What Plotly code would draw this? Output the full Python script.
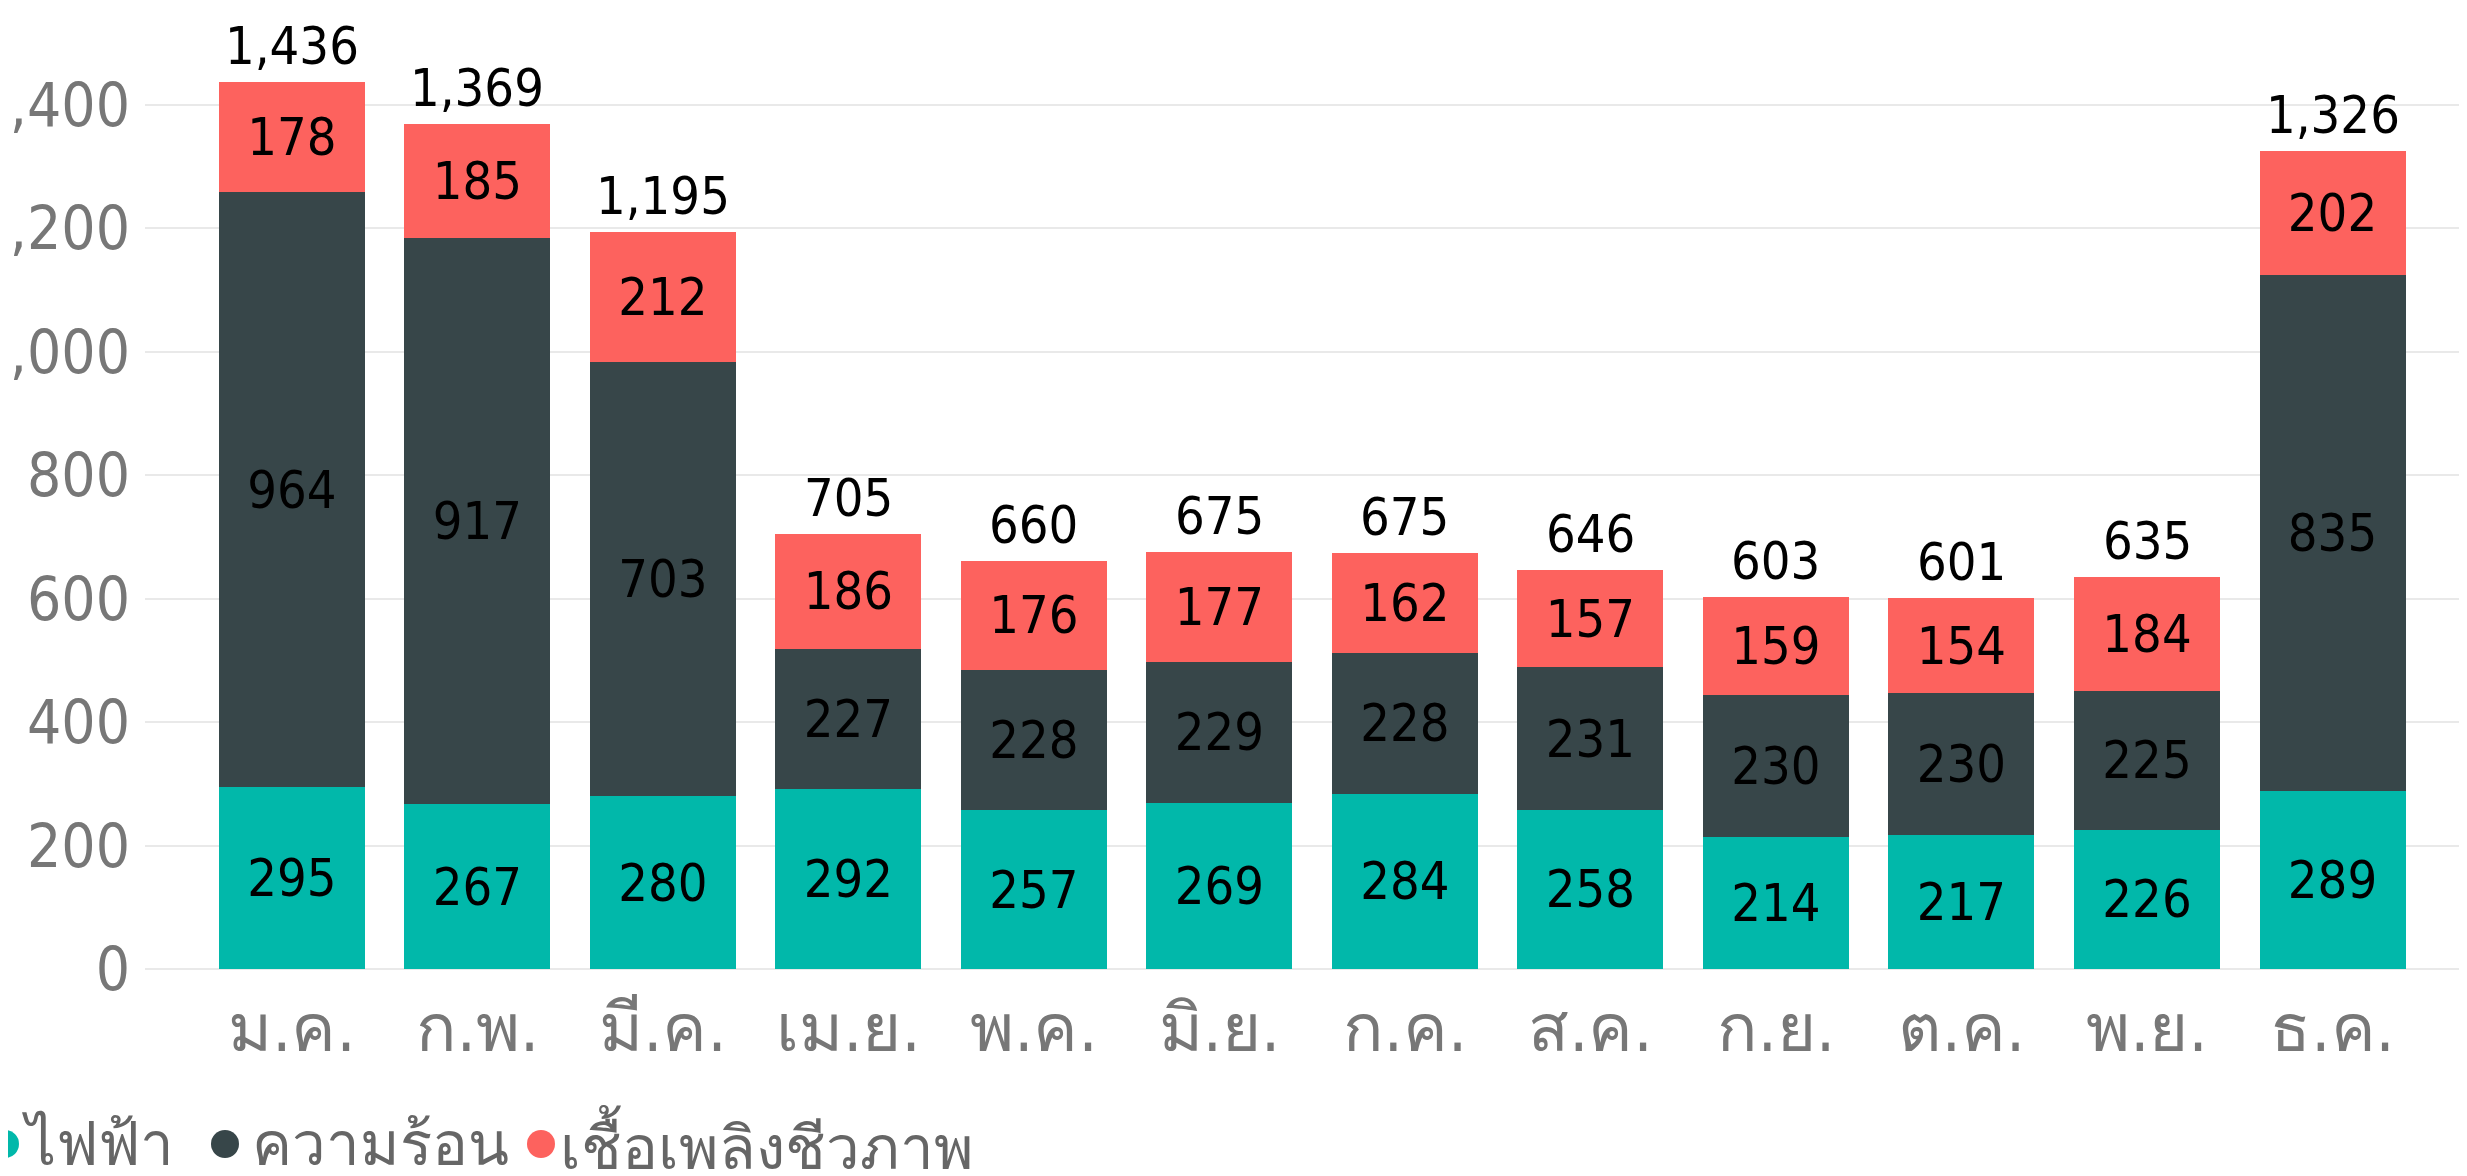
import plotly.graph_objects as go

months = ["ม.ค.", "ก.พ.", "มี.ค.", "เม.ย.", "พ.ค.", "มิ.ย.", "ก.ค.", "ส.ค.", "ก.ย.", "ต.ค.", "พ.ย.", "ธ.ค."]
electricity = [295, 267, 280, 292, 257, 269, 284, 258, 214, 217, 226, 289]
heat = [964, 917, 703, 227, 228, 229, 228, 231, 230, 230, 225, 835]
biofuel = [178, 185, 212, 186, 176, 177, 162, 157, 159, 154, 184, 202]
totals = [1436, 1369, 1195, 705, 660, 675, 675, 646, 603, 601, 635, 1326]
series_names = ["ไฟฟ้า", "ความร้อน", "เชื้อเพลิงชีวภาพ"]
colors = ["#01B8AA", "#374649", "#FD625E"]
y_ticks = [0, 200, 400, 600, 800, 1000, 1200, 1400]

FONT = "'DejaVu Sans Condensed', 'Liberation Sans Narrow', Roboto, sans-serif"

# the page adds an 8px body margin, so the figure is sized to fit inside the window
W, H = 2459, 1168
ML, MB = 137, 207
PW, PH = W - ML, H - MB


def screen_to_paper_x(p):
    return (p - 8 - ML) / PW


def screen_to_paper_y(p):
    return (PH - (p - 8)) / PH


fig = go.Figure()
for name, vals, col in zip(series_names, [electricity, heat, biofuel], colors):
    fig.add_trace(go.Bar(
        x=months, y=vals, name=name, marker=dict(color=col, line=dict(width=0)),
        text=[f"{v:,}" for v in vals], textposition="inside", insidetextanchor="middle",
        textangle=0, constraintext="none",
        textfont=dict(family=FONT, size=52, color="#000000"),
        showlegend=False,
    ))

stack_tops = [a + b + c for a, b, c in zip(electricity, heat, biofuel)]
for m, top, t in zip(months, stack_tops, totals):
    fig.add_annotation(x=m, y=top, text=f"{t:,}", showarrow=False, yanchor="bottom",
                       yshift=4, font=dict(family=FONT, size=52, color="#000000"))

# manual legend (circle markers + labels)
leg_circle_px = [5, 225, 541]
leg_text_px = [20, 250, 558]
leg_y = screen_to_paper_y(1144)
for name, col, cx, tx in zip(series_names, colors, leg_circle_px, leg_text_px):
    fig.add_shape(type="circle", xref="paper", yref="paper", xsizemode="pixel", ysizemode="pixel",
                  xanchor=screen_to_paper_x(cx), yanchor=leg_y, x0=-14, x1=14, y0=-14, y1=14,
                  fillcolor=col, line=dict(width=0))
    fig.add_annotation(xref="paper", yref="paper", x=screen_to_paper_x(tx), y=leg_y,
                       text=name, showarrow=False, xanchor="left", yanchor="middle",
                       font=dict(family=FONT, size=60, color="#666666"))

fig.update_layout(
    width=W, height=H,
    margin=dict(l=ML, r=0, t=0, b=MB, autoexpand=False),
    plot_bgcolor="white", paper_bgcolor="white",
    barmode="stack", bargap=0.213,
    font=dict(family=FONT),
    xaxis=dict(range=[-0.792, 11.725], tickfont=dict(size=67, color="#777777"),
               showgrid=False, showline=False, ticks="", automargin=False,
               ticklabelstandoff=14),
    yaxis=dict(range=[0, PH / 0.6171], tickvals=y_ticks, tickformat=",",
               tickfont=dict(size=60, color="#777777"), automargin=False,
               gridcolor="#E9E9E9", gridwidth=2, zeroline=True, zerolinecolor="#E9E9E9",
               zerolinewidth=2, showline=False, ticklabelstandoff=14),
)
fig.write_html("out.html")
